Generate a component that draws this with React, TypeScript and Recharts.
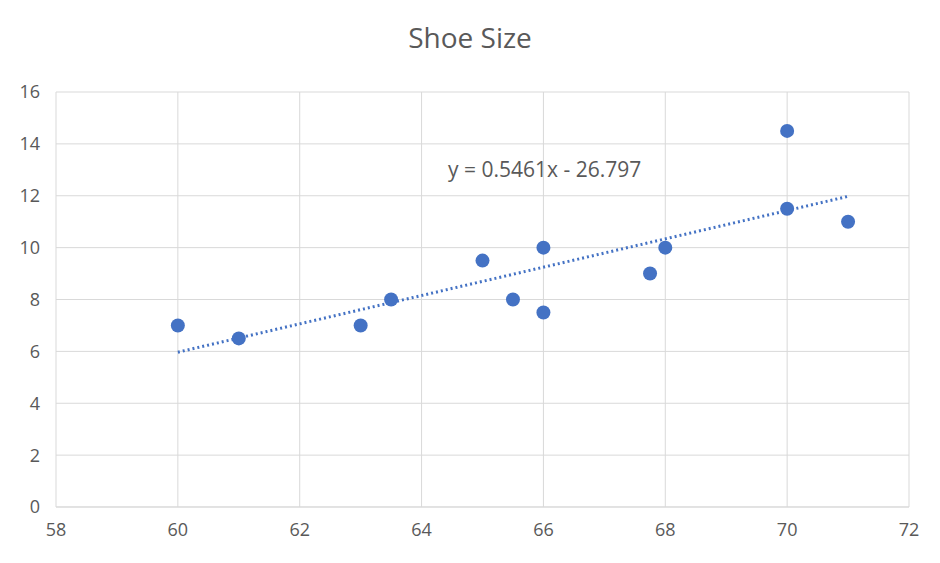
import { ScatterChart, Scatter, XAxis, YAxis, CartesianGrid, ReferenceLine } from 'recharts';

const HEIGHTS = [60, 61, 63, 63.5, 65, 65.5, 66, 66, 67.75, 68, 70, 70, 71];
const SHOE_SIZES = [7, 6.5, 7, 8, 9.5, 8, 10, 7.5, 9, 10, 14.5, 11.5, 11];
const X_TICKS = [58, 60, 62, 64, 66, 68, 70, 72];
const Y_TICKS = [0, 2, 4, 6, 8, 10, 12, 14, 16];
const SLOPE = 0.5461;
const INTERCEPT = -26.797;
const TREND_X = [60, 71];

const points = HEIGHTS.map((x, i) => ({ x, y: SHOE_SIZES[i] }));
const trend = TREND_X.map(x => ({ x, y: SLOPE * x + INTERCEPT }));
const TICK = { fontSize: 18, fill: '#595959', fontFamily: 'Open Sans, sans-serif' };

export default function App() {
    return (
        <div style={{ position: 'absolute', left: 0, top: 0, width: 940, height: 563, background: '#fff', fontFamily: 'Open Sans, sans-serif' }}>
            <div style={{ position: 'absolute', top: 18, width: 940, textAlign: 'center', fontSize: 28, color: '#595959' }}>Shoe Size</div>
            <div style={{ position: 'absolute', left: 448, top: 155, fontSize: 21, color: '#595959' }}>y = 0.5461x - 26.797</div>
            <ScatterChart width={940} height={563} margin={{ top: 92, right: 31, left: 16, bottom: 26 }}>
                <CartesianGrid stroke="#d9d9d9" />
                <XAxis type="number" dataKey="x" domain={[58, 72]} ticks={X_TICKS} tick={TICK} axisLine={{ stroke: '#d9d9d9' }} tickLine={false} height={30} tickMargin={10} />
                <YAxis type="number" dataKey="y" domain={[0, 16]} ticks={Y_TICKS} tick={TICK} axisLine={false} tickLine={false} width={40} tickMargin={10} />
                <ReferenceLine segment={trend} stroke="#4472c4" strokeWidth={3} strokeDasharray="2 3" />
                <Scatter data={points} fill="#4472c4" isAnimationActive={false}
                    shape={(p: any) => <circle cx={p.cx} cy={p.cy} r={7} fill="#4472c4" />} />
            </ScatterChart>
        </div>
    );
}
